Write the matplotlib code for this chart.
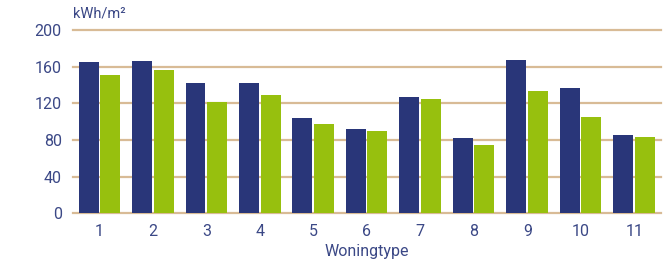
import matplotlib
matplotlib.use("Agg")
import matplotlib.pyplot as plt
import numpy as np

plt.rcParams['font.family'] = ['Roboto', 'DejaVu Sans']

woningtype = ['1', '2', '3', '4', '5', '6', '7', '8', '9', '10', '11']
serie_a = [165, 166, 142, 142, 104, 92, 127, 82, 167, 137, 86]
serie_b = [151, 156, 122, 129, 97, 90, 125, 75, 134, 105, 83]

navy = '#293679'
green = '#97c00e'
text_col = '#3b4886'
grid_col = '#d8bb96'

fig = plt.figure(figsize=(6.69, 2.66), dpi=100)
ax = fig.add_axes([0.109, 0.198, 0.879, 0.689])

x = np.arange(1, len(woningtype) + 1)
w = 0.374
gap = 0.02
ax.bar(x - w / 2 - gap, serie_a, width=w, color=navy, zorder=3)
ax.bar(x + w / 2 + gap / 2, serie_b, width=w, color=green, zorder=3)

ax.set_xlim(0.5, 11.5)
ax.set_ylim(0, 200)
ax.set_yticks([0, 40, 80, 120, 160, 200])
ax.set_xticks(x)
ax.set_xticklabels(woningtype)

for yv in [0, 40, 80, 120, 160, 200]:
    ax.axhline(yv, color=grid_col, lw=1.6, zorder=1, clip_on=False)

for s in ax.spines.values():
    s.set_visible(False)
ax.tick_params(axis='both', length=0, labelsize=11.5, colors=text_col)
ax.tick_params(axis='x', pad=8)
ax.tick_params(axis='y', pad=8)

ax.set_xlabel('Woningtype', fontsize=11.5, color=text_col, labelpad=3)
fig.text(73 / 669, 1 - 14 / 266, 'kWh/m²', fontsize=10.5, color=text_col,
         ha='left', va='center')

fig.savefig('out.png', dpi=100)
